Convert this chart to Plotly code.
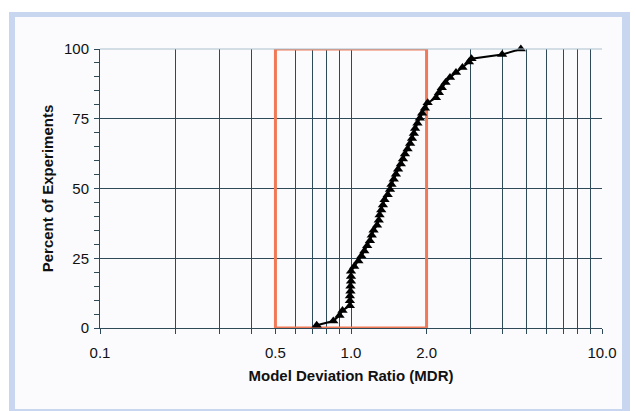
import plotly.graph_objects as go

# ---- data ----
mdr = [0.73, 0.85, 0.90, 0.925, 0.99, 0.99, 0.99, 0.995, 0.995, 1.0, 1.0, 1.0,
       1.03, 1.07, 1.10, 1.13, 1.16, 1.19, 1.21, 1.23, 1.27, 1.29, 1.30, 1.32,
       1.34, 1.36, 1.40, 1.43, 1.45, 1.48, 1.51, 1.54, 1.58, 1.61, 1.64, 1.68,
       1.72, 1.75, 1.78, 1.80, 1.84, 1.88, 1.92, 1.97, 2.02, 2.18, 2.24, 2.30,
       2.38, 2.48, 2.62, 2.78, 2.95, 3.02, 4.0, 4.75]
pct = [1.0, 2.5, 4.5, 6.3, 8.0, 9.8, 11.5, 13.2, 15.0, 16.8, 18.5, 20.3,
       22.0, 24.0, 25.8, 27.6, 29.5, 31.3, 33.2, 35.0, 36.8, 38.6, 40.5, 42.3,
       44.1, 46.0, 47.8, 49.6, 51.4, 53.3, 55.1, 56.9, 58.8, 60.6, 62.4, 64.2,
       66.1, 67.9, 69.7, 71.5, 73.4, 75.2, 77.0, 78.8, 80.7, 82.5, 84.3, 86.1,
       88.0, 89.8, 91.6, 93.4, 95.3, 96.5, 98.0, 100.0]

band_x = [0.5, 2.0]          # acceptable MDR band
band_y = [0, 100]

x_major_vals = [0.1, 0.5, 1.0, 2.0, 10.0]
x_major_text = ["0.1", "0.5", "1.0", "2.0", "10.0"]
x_minor_vals = [0.2, 0.3, 0.4, 0.6, 0.7, 0.8, 0.9, 3, 4, 5, 6, 7, 8, 9]
y_tick_vals = [0, 25, 50, 75, 100]

# ---- layout geometry (pixels) ----
W, H = 636, 411
L, R, T, B = 100, 34, 49, 83
pw, ph = W - L - R, H - T - B


def px(xp):
    return (xp - L) / pw


def py(yp):
    return (H - B - yp) / ph


grid_col = "#2e4a58"
red = "#f07a58"
font_fam = "Liberation Sans, Arial, sans-serif"

fig = go.Figure()

# target band box
fig.add_trace(go.Scatter(
    x=[band_x[0], band_x[1], band_x[1], band_x[0], band_x[0]],
    y=[band_y[0], band_y[0], band_y[1], band_y[1], band_y[0]],
    mode="lines", line=dict(color=red, width=3),
    hoverinfo="skip", showlegend=False, cliponaxis=False))

# data
fig.add_trace(go.Scatter(
    x=mdr, y=pct, mode="lines+markers",
    line=dict(color="black", width=2),
    marker=dict(symbol="triangle-up", size=9, color="black"),
    showlegend=False, cliponaxis=False))

fig.update_layout(
    width=W, height=H,
    margin=dict(l=L, r=R, t=T, b=B, pad=0),
    paper_bgcolor="white",
    plot_bgcolor="#fcfcfe",
    font=dict(family=font_fam, size=15, color="#111111"),
    shapes=[
        dict(type="rect", xref="paper", yref="paper", layer="below",
             x0=px(9), x1=px(630), y0=py(411), y1=py(12),
             fillcolor="#c8d6ef", line=dict(width=0)),
        dict(type="rect", xref="paper", yref="paper", layer="below",
             x0=px(15), x1=px(622), y0=py(409), y1=py(17),
             fillcolor="#fbfbfd", line=dict(width=0)),
        # lighter top border line
        dict(type="line", xref="paper", yref="paper", layer="above",
             x0=0, x1=1, y0=1, y1=1,
             line=dict(color="#a9bfcc", width=1)),
    ],
)

fig.update_xaxes(
    type="log", range=[-1, 1],
    tickmode="array", tickvals=x_major_vals, ticktext=x_major_text,
    ticks="outside", ticklen=5, tickcolor=grid_col,
    ticklabelstandoff=6,
    showgrid=True, gridcolor=grid_col, gridwidth=1,
    showline=True, linecolor=grid_col, linewidth=1,
    zeroline=False,
    tickfont=dict(size=15),
    minor=dict(tickmode="array", tickvals=x_minor_vals, ticks="outside",
               ticklen=5, tickcolor=grid_col, showgrid=True,
               gridcolor=grid_col, gridwidth=1),
    title=dict(text="<b>Model Deviation Ratio (MDR)</b>", font=dict(size=15),
               standoff=10),
)

fig.update_yaxes(
    range=[0, 100],
    tickmode="array", tickvals=y_tick_vals,
    ticks="outside", ticklen=5, tickcolor=grid_col,
    ticklabelstandoff=2,
    showgrid=True, gridcolor=grid_col, gridwidth=1,
    showline=True, linecolor=grid_col, linewidth=1,
    zeroline=False,
    tickfont=dict(size=15),
    minor=dict(dtick=5, ticks="outside", ticklen=5, tickcolor=grid_col,
               showgrid=False),
    title=dict(text="<b>Percent of Experiments</b>", font=dict(size=15),
               standoff=6),
)

fig.write_html(
    "out.html",
    config={"displayModeBar": False},
    post_script="document.body.style.margin='0';document.body.style.overflow='hidden';",
)
